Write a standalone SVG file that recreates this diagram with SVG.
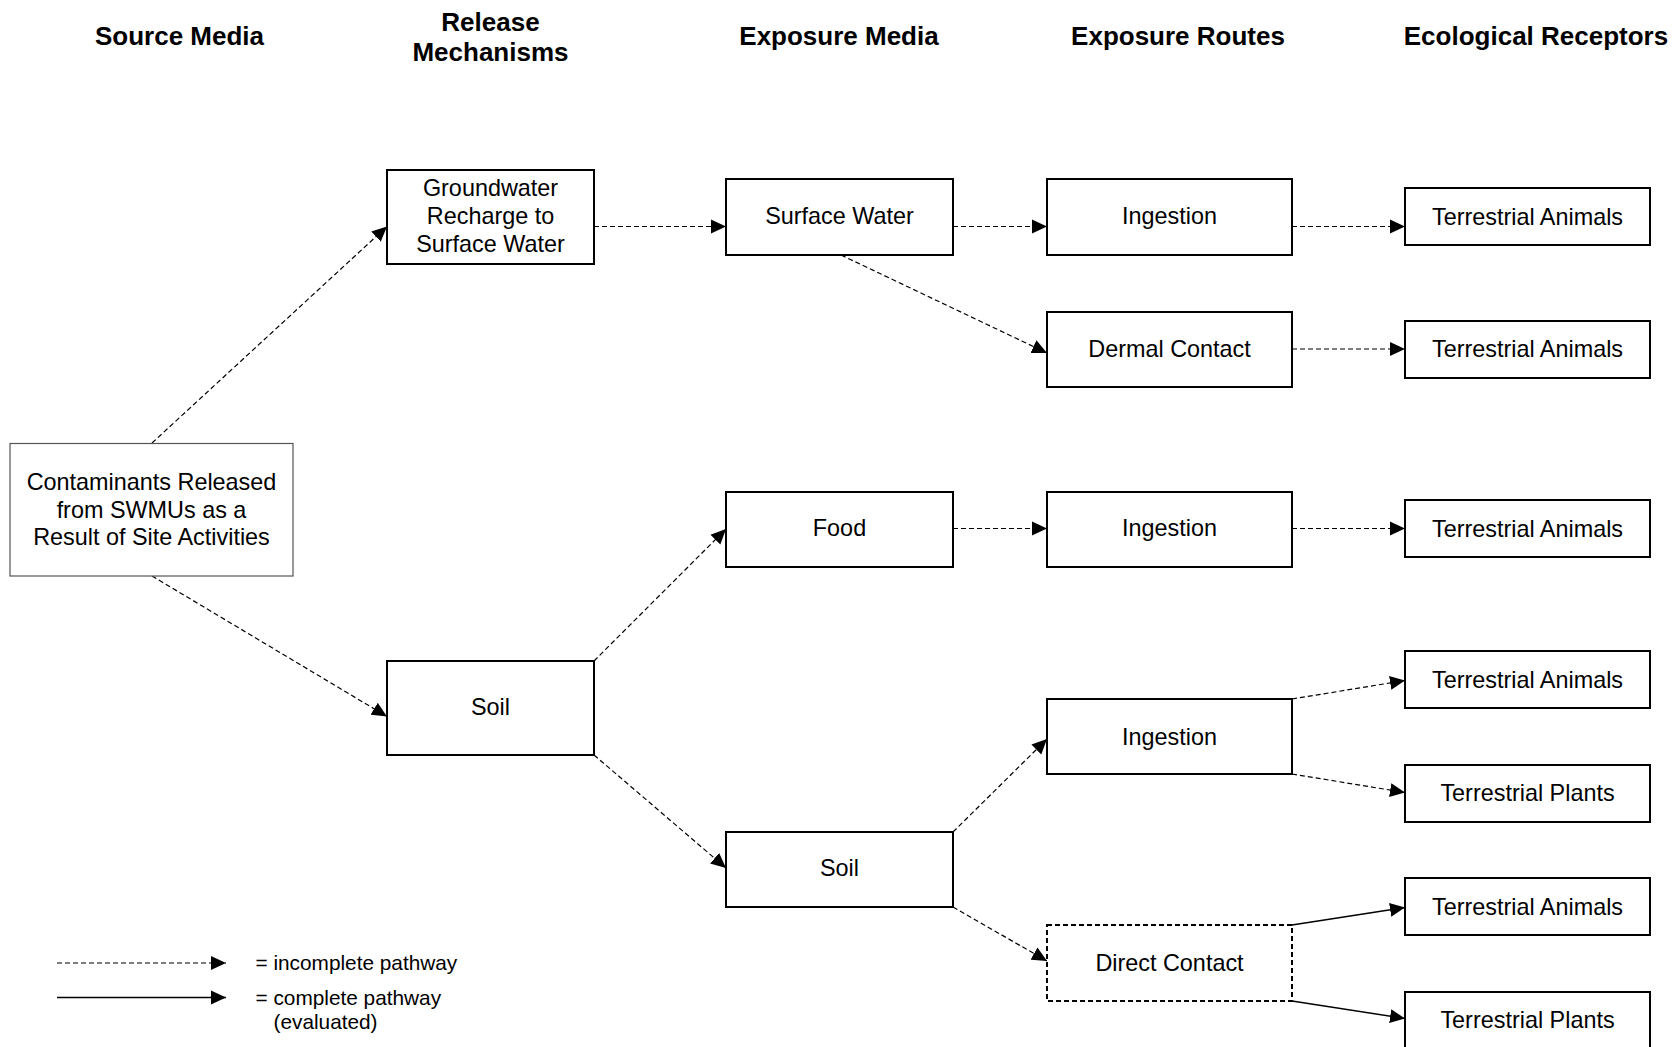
<svg xmlns="http://www.w3.org/2000/svg" width="1676" height="1047" viewBox="0 0 1676 1047">
  <style>
    .hdr { font-family: "Liberation Sans", Arial, sans-serif; font-size: 26px; font-weight: bold; fill: #000; text-anchor: middle; }
    .lbl { font-family: "Liberation Sans", Arial, sans-serif; font-size: 23.4px; fill: #000; text-anchor: middle; }
    .leg { font-family: "Liberation Sans", Arial, sans-serif; font-size: 20.8px; fill: #000; }
    .box { fill: #fff; stroke: #000; stroke-width: 2; }
    .box-thin { fill: #fff; stroke: #555; stroke-width: 1.2; }
    .box-dash { fill: #fff; stroke: #000; stroke-width: 2; stroke-dasharray: 5 3; }
    .inc { fill: none; stroke: #000; stroke-width: 1.2; stroke-dasharray: 5 3; marker-end: url(#arrow); }
    .cmp { fill: none; stroke: #000; stroke-width: 1.4; marker-end: url(#arrow); }
  </style>
  <defs>
    <marker id="arrow" markerUnits="userSpaceOnUse" markerWidth="15" markerHeight="15" viewBox="0 0 15 15" refX="15" refY="7.5" orient="auto">
      <path d="M0,0.5 L15,7.5 L0,14.5 Z" fill="#000"/>
    </marker>
  </defs>
  <rect width="1676" height="1047" fill="#fff"/>

  <!-- column headings -->
  <g id="headings">
    <text class="hdr" x="179.5" y="45">Source Media</text>
    <text class="hdr" x="490.5" y="30.5">Release</text>
    <text class="hdr" x="490.5" y="61">Mechanisms</text>
    <text class="hdr" x="839" y="45">Exposure Media</text>
    <text class="hdr" x="1178" y="45">Exposure Routes</text>
    <text class="hdr" x="1536" y="45">Ecological Receptors</text>
  </g>

  <!-- pathways -->
  <g id="connectors">
    <line class="inc" x1="152" y1="443" x2="387" y2="226.5"/>
    <line class="inc" x1="152" y1="576" x2="387" y2="716.5"/>
    <line class="inc" x1="594" y1="226.5" x2="726" y2="226.5"/>
    <line class="inc" x1="953" y1="226.5" x2="1047" y2="226.5"/>
    <line class="inc" x1="1292" y1="226.5" x2="1405" y2="226.5"/>
    <line class="inc" x1="841" y1="255" x2="1047" y2="353"/>
    <line class="inc" x1="1292" y1="349" x2="1405" y2="349"/>
    <line class="inc" x1="594" y1="661" x2="726" y2="529"/>
    <line class="inc" x1="953" y1="528.5" x2="1047" y2="528.5"/>
    <line class="inc" x1="1292" y1="528.5" x2="1405" y2="528.5"/>
    <line class="inc" x1="594" y1="755" x2="726" y2="868"/>
    <line class="inc" x1="953" y1="832" x2="1047" y2="739"/>
    <line class="inc" x1="953" y1="907" x2="1047" y2="961"/>
    <line class="inc" x1="1292" y1="699" x2="1405" y2="680.5"/>
    <line class="inc" x1="1292" y1="774" x2="1405" y2="792.5"/>
    <line class="cmp" x1="1292" y1="925" x2="1405" y2="907.5"/>
    <line class="cmp" x1="1292" y1="1001" x2="1405" y2="1018.5"/>
  </g>

  <g id="n-contaminants">
    <rect class="box-thin" x="10" y="443.5" width="283" height="132.5"/>
    <text class="lbl" x="151.5" y="489.5">Contaminants Released</text>
    <text class="lbl" x="151.5" y="517.5">from SWMUs as a</text>
    <text class="lbl" x="151.5" y="545">Result of Site Activities</text>
  </g>

  <g id="n-groundwater">
    <rect class="box" x="387" y="170" width="207" height="94"/>
    <text class="lbl" x="490.5" y="196">Groundwater</text>
    <text class="lbl" x="490.5" y="224">Recharge to</text>
    <text class="lbl" x="490.5" y="251.5">Surface Water</text>
  </g>

  <g id="n-soil-release">
    <rect class="box" x="387" y="661" width="207" height="94"/>
    <text class="lbl" x="490.5" y="715">Soil</text>
  </g>

  <g id="n-surface-water">
    <rect class="box" x="726" y="179" width="227" height="76"/>
    <text class="lbl" x="839.5" y="224">Surface Water</text>
  </g>

  <g id="n-food">
    <rect class="box" x="726" y="492" width="227" height="75"/>
    <text class="lbl" x="839.5" y="536">Food</text>
  </g>

  <g id="n-soil-exposure">
    <rect class="box" x="726" y="832" width="227" height="75"/>
    <text class="lbl" x="839.5" y="876">Soil</text>
  </g>

  <g id="n-ingestion-1">
    <rect class="box" x="1047" y="179" width="245" height="76"/>
    <text class="lbl" x="1169.5" y="224">Ingestion</text>
  </g>

  <g id="n-dermal">
    <rect class="box" x="1047" y="312" width="245" height="75"/>
    <text class="lbl" x="1169.5" y="356.5">Dermal Contact</text>
  </g>

  <g id="n-ingestion-2">
    <rect class="box" x="1047" y="492" width="245" height="75"/>
    <text class="lbl" x="1169.5" y="536">Ingestion</text>
  </g>

  <g id="n-ingestion-3">
    <rect class="box" x="1047" y="699" width="245" height="75"/>
    <text class="lbl" x="1169.5" y="744.5">Ingestion</text>
  </g>

  <g id="n-direct-contact">
    <rect class="box-dash" x="1047" y="925" width="245" height="76"/>
    <text class="lbl" x="1169.5" y="971">Direct Contact</text>
  </g>

  <g id="n-animals-1">
    <rect class="box" x="1405" y="188" width="245" height="57"/>
    <text class="lbl" x="1527.5" y="224.5">Terrestrial Animals</text>
  </g>

  <g id="n-animals-2">
    <rect class="box" x="1405" y="321" width="245" height="57"/>
    <text class="lbl" x="1527.5" y="357">Terrestrial Animals</text>
  </g>

  <g id="n-animals-3">
    <rect class="box" x="1405" y="500" width="245" height="57"/>
    <text class="lbl" x="1527.5" y="536.5">Terrestrial Animals</text>
  </g>

  <g id="n-animals-4">
    <rect class="box" x="1405" y="651" width="245" height="57"/>
    <text class="lbl" x="1527.5" y="687.5">Terrestrial Animals</text>
  </g>

  <g id="n-plants-1">
    <rect class="box" x="1405" y="765" width="245" height="57"/>
    <text class="lbl" x="1527.5" y="801">Terrestrial Plants</text>
  </g>

  <g id="n-animals-5">
    <rect class="box" x="1405" y="878" width="245" height="57"/>
    <text class="lbl" x="1527.5" y="914.5">Terrestrial Animals</text>
  </g>

  <g id="n-plants-2">
    <rect class="box" x="1405" y="992" width="245" height="57"/>
    <text class="lbl" x="1527.5" y="1028">Terrestrial Plants</text>
  </g>

  <!-- key -->
  <g id="legend">
    <line class="inc" x1="57" y1="963" x2="226" y2="963"/>
    <line class="cmp" x1="57" y1="997.5" x2="226" y2="997.5"/>
    <text class="leg" x="255.5" y="970">= incomplete pathway</text>
    <text class="leg" x="255.5" y="1004.5">= complete pathway</text>
    <text class="leg" x="273.5" y="1029">(evaluated)</text>
  </g>
</svg>
